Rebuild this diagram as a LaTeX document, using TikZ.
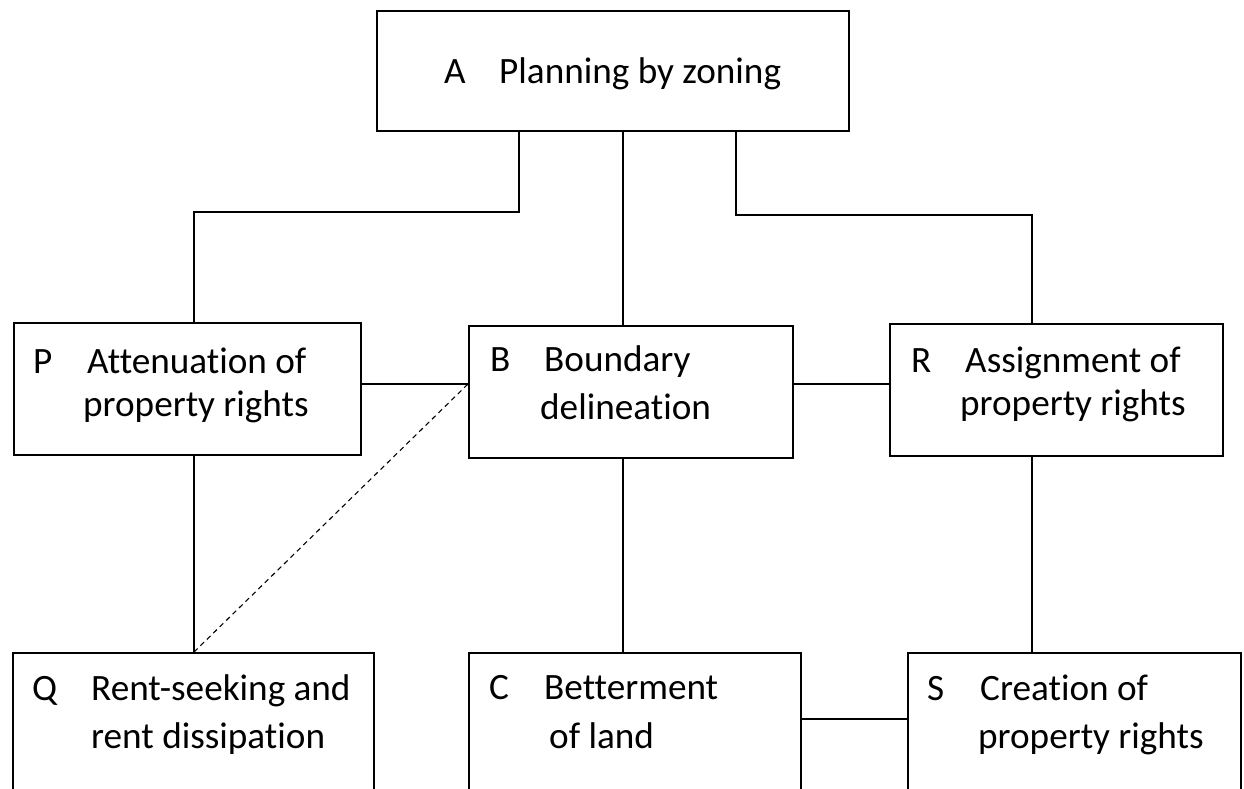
\documentclass[tikz,border=0pt]{standalone}
\usepackage{fontspec}
\setmainfont{Carlito}[Ligatures=NoCommon]
\begin{document}
\begin{tikzpicture}[x=1pt,y=-1pt,
  box/.style={draw, line width=1.9pt, inner sep=0pt, anchor=north west},
  conn/.style={line width=1.2pt},
  dashconn/.style={line width=1.1pt, dash pattern=on 5pt off 4pt},
  txt/.style={anchor=base west, inner sep=0pt, font=\fontsize{37.2}{44}\selectfont}]
\path[use as bounding box] (0,0) rectangle (1244,789);
\clip (0,0) rectangle (1244,789);
% boxes
\node[box, minimum width=472pt, minimum height=120pt] (A) at (376,10) {};
\node[box, minimum width=347pt, minimum height=132pt] (P) at (13,322) {};
\node[box, minimum width=324pt, minimum height=132pt] (B) at (468,325) {};
\node[box, minimum width=333pt, minimum height=132pt] (R) at (889,323) {};
\node[box, minimum width=361pt, minimum height=200pt] (Q) at (12,652) {};
\node[box, minimum width=332pt, minimum height=200pt] (C) at (468,652) {};
\node[box, minimum width=333pt, minimum height=200pt] (S) at (907,652) {};
% texts
\node[txt] (Al) at (444,84) {A};
\node[txt] (At) at (499,84) {Planning by zoning};
\node[txt] (Pl) at (33,373) {P};
\node[txt] (Pt1) at (87,373) {Attenuation of};
\node[txt] (Pt2) at (83,416) {property rights};
\node[txt] (Bl) at (490,371) {B};
\node[txt] (Bt1) at (544,371) {Boundary};
\node[txt] (Bt2) at (540,419) {delineation};
\node[txt] (Rl) at (911,372) {R};
\node[txt] (Rt1) at (965,372) {Assignment of};
\node[txt] (Rt2) at (960,415) {property rights};
\node[txt] (Ql) at (32,700) {Q};
\node[txt] (Qt1) at (91,700) {Rent-seeking and};
\node[txt] (Qt2) at (91,748) {rent dissipation};
\node[txt] (Cl) at (489,699) {C};
\node[txt] (Ct1) at (544,699) {Betterment};
\node[txt] (Ct2) at (549,748) {of land};
\node[txt] (Sl) at (927,700) {S};
\node[txt] (St1) at (980,700) {Creation of};
\node[txt] (St2) at (978,748) {property rights};
% helper coordinates
\coordinate (xL) at (519,0);
\coordinate (xM) at (623,0);
\coordinate (xR) at (736,0);
\coordinate (xP) at (194,0);
\coordinate (xS) at (1032,0);
\coordinate (yL) at (0,212);
\coordinate (yR) at (0,215);
\coordinate (yPB) at (0,384);
\coordinate (yCS) at (0,719);
% connectors
\draw[conn] (A.south -| xL) -- (xL |- yL) -- (xP |- yL) -- (P.north -| xP);
\draw[conn] (A.south -| xM) -- (B.north -| xM);
\draw[conn] (A.south -| xR) -- (xR |- yR) -- (xS |- yR) -- (R.north -| xS);
\draw[conn] (P.east |- yPB) -- (B.west |- yPB);
\draw[conn] (B.east |- yPB) -- (R.west |- yPB);
\draw[conn] (P.south -| xP) -- (Q.north -| xP);
\draw[conn] (B.south -| xM) -- (C.north -| xM);
\draw[conn] (R.south -| xS) -- (S.north -| xS);
\draw[conn] (C.east |- yCS) -- (S.west |- yCS);
\draw[dashconn] (Q.north -| xP) -- (B.west |- yPB);
\end{tikzpicture}
\end{document}
